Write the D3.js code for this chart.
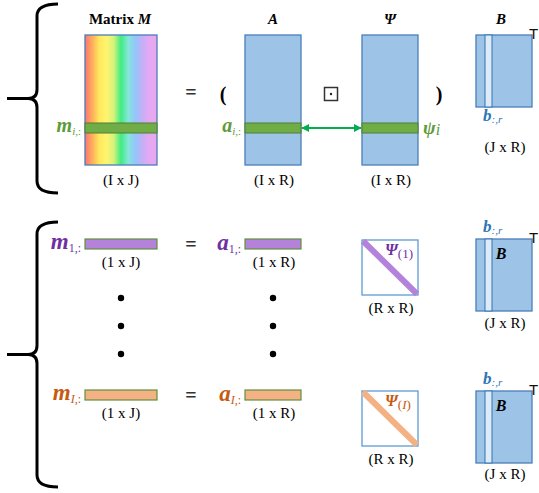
<!DOCTYPE html>
<html>
<head>
<meta charset="utf-8">
<script src="https://cdn.jsdelivr.net/npm/d3@7"></script>
<style>
  body { margin: 0; background: #fff; }
  text { font-family: "Liberation Serif", "DejaVu Serif", serif; }
</style>
</head>
<body>
<div id="chart"></div>
<script>
// Data -------------------------------------------------
const columns = ["M", "A", "Psi", "B"]
const titles = ["Matrix ", "A", "Ψ", "B"]
const topDims = ["(I x J)", "(I x R)", "(I x R)", "(J x R)"]
const rowDims = ["(1 x J)", "(1 x R)", "(R x R)", "(J x R)"]
const rowIds = ["1", "I"]
const rowFill = ["#b482da", "#f4b183"]
const rowInk = ["#7030a0", "#c55a11"]
const rainbow = ["#ff7373", "#ffad5c", "#ffe95c", "#fff46e", "#d4f37a", "#3fec82", "#86e6d8", "#92c6fc", "#c8aef6", "#e6a8f2", "#eaa6f0"]
const dotCount = 3

// Canvas setup -----------------------------------------
const WIDTH = 539, HEIGHT = 493
const svg = d3.select("#chart").append("svg")
    .attr("width", WIDTH)
    .attr("height", HEIGHT)

const BLUE = "#9dc3e6", BLUE_EDGE = "#4a7ebb", GREEN = "#70ad47", GREEN_EDGE = "#507e32"
const GREEN_INK = "#5f9b3a"
const DIM_SIZE = 15

// Scales ---------------------------------------------
const xLeft = d3.scaleOrdinal().domain(columns).range([85, 245, 362, 476])
const colW = d3.scaleOrdinal().domain(columns).range([72, 56, 56, 56])
const xMid = c => xLeft(c) + colW(c) / 2
// row band positions (top block, row 1, row I)
const rowY = d3.scaleOrdinal().domain(["top", "1", "I"]).range([35, 239, 390])
const gradX = d3.scaleLinear().domain([0, rainbow.length - 1]).range([0, 100])

// Gradient
const defs = svg.append("defs")
const grad = defs.append("linearGradient").attr("id", "rainbow")
grad.selectAll("stop").data(rainbow).join("stop")
    .attr("offset", (d, i) => gradX(i) + "%")
    .attr("stop-color", d => d)

// Braces ---------------------------------------------
function brace(y0, y1){
    const ym = (y0 + y1) / 2
    return `M58,${y0} Q37,${y0} 37,${y0+12} L37,${ym-9} Q37,${ym} 28,${ym} L7,${ym}` +
        ` M28,${ym} Q37,${ym} 37,${ym+9} L37,${y1-12} Q37,${y1} 58,${y1}`
}
svg.selectAll("path.brace").data([[4, 193], [222, 487]]).join("path")
    .attr("class", "brace")
    .attr("d", d => brace(d[0], d[1]))
    .attr("fill", "none").attr("stroke", "#000").attr("stroke-width", 3)

// Helper for label with subscript
function subLabel(g, x, y, base, sub, color, opts = {}){
    const t = g.append("text")
        .attr("x", x).attr("y", y)
        .attr("text-anchor", opts.anchor || "end")
        .attr("fill", color)
    t.append("tspan").text(base)
        .attr("font-size", opts.size || 17)
        .attr("font-weight", "bold").attr("font-style", "italic")
    sub.forEach(s => {
        t.append("tspan").text(s.t)
            .attr("font-size", opts.subSize || 11)
            .attr("font-style", s.i ? "italic" : "normal")
            .attr("dy", s.dy || 0)
    })
    return t
}

// transpose mark on B
function transposeMark(y){
    svg.append("text").attr("x", 529).attr("y", y)
        .style("font-family", "'Liberation Sans', Arial, sans-serif")
        .style("font-size", "15px")
        .attr("fill", "#111")
        .text("T")
}

// Top block ------------------------------------------
const topG = svg.append("g")
const topH = 130, bandY = 123, bandH = 10

// titles
topG.selectAll("text.title").data(columns).join("text")
    .attr("class", "title")
    .attr("x", d => d === "M" ? 120 : (d === "B" ? 501 : xMid(d)))
    .attr("y", 24)
    .attr("text-anchor", "middle")
    .attr("font-size", 15).attr("font-weight", "bold")
    .each(function(d, i){
        const t = d3.select(this)
        if (d === "M") {
            t.append("tspan").text(titles[i])
            t.append("tspan").text("M").attr("font-style", "italic")
        } else {
            t.text(titles[i]).attr("font-style", "italic")
        }
    })

// matrices
topG.selectAll("rect.mat").data(columns).join("rect")
    .attr("class", "mat")
    .attr("x", d => xLeft(d))
    .attr("y", rowY("top"))
    .attr("width", d => colW(d))
    .attr("height", d => d === "B" ? 72 : topH)
    .attr("fill", d => d === "M" ? "url(#rainbow)" : BLUE)
    .attr("stroke", BLUE_EDGE).attr("stroke-width", 1.3)

// green rows
topG.selectAll("rect.band").data(columns.slice(0, 3)).join("rect")
    .attr("class", "band")
    .attr("x", d => xLeft(d)).attr("y", bandY)
    .attr("width", d => colW(d)).attr("height", bandH)
    .attr("fill", GREEN).attr("stroke", GREEN_EDGE).attr("stroke-width", 1)

// dims
topG.selectAll("text.dim").data(columns).join("text")
    .attr("class", "dim")
    .attr("x", d => d === "M" ? 121 : xMid(d) + 1)
    .attr("y", d => d === "B" ? 152 : 185)
    .attr("text-anchor", "middle").attr("font-size", DIM_SIZE)
    .text((d, i) => topDims[i])

// arrow
const arrowColor = "#00b050"
defs.append("marker").attr("id", "ah").attr("viewBox", "0 0 10 10")
    .attr("refX", 9).attr("refY", 5).attr("markerWidth", 4).attr("markerHeight", 4)
    .attr("orient", "auto-start-reverse")
    .append("path").attr("d", "M0,0 L10,5 L0,10 z").attr("fill", arrowColor)
topG.append("line")
    .attr("x1", xLeft("A") + colW("A") + 1).attr("x2", xLeft("Psi") - 1)
    .attr("y1", 128).attr("y2", 128)
    .attr("stroke", arrowColor).attr("stroke-width", 2)
    .attr("marker-start", "url(#ah)").attr("marker-end", "url(#ah)")

// operator symbols
topG.append("rect").attr("x", 324.5).attr("y", 87.5).attr("width", 13).attr("height", 13)
    .attr("fill", "#fff").attr("stroke", "#333").attr("stroke-width", 1.5)
topG.append("circle").attr("cx", 331).attr("cy", 94).attr("r", 1.2).attr("fill", "#222")
topG.append("text").attr("x", 191).attr("y", 99).attr("text-anchor", "middle")
    .attr("font-size", 20).attr("font-weight", "bold").attr("fill", "#333").text("=")
topG.append("text").attr("x", 223).attr("y", 101).attr("text-anchor", "middle")
    .attr("font-size", 20).attr("font-weight", "bold").text("(")
topG.append("text").attr("x", 439).attr("y", 101).attr("text-anchor", "middle")
    .attr("font-size", 20).attr("font-weight", "bold").text(")")

// labels
subLabel(topG, 81, 132, "m", [{t: "i", i: true, dy: 3}, {t: ",:"}], GREEN_INK, {size: 20})
subLabel(topG, 241, 132, "a", [{t: "i", i: true, dy: 3}, {t: ",:"}], GREEN_INK, {size: 20})
subLabel(topG, 423, 134, "ψ", [{t: "i", i: true, dy: 1}], GREEN_INK, {anchor: "start", size: 19, subSize: 16})
subLabel(topG, 483, 121, "b", [{t: ":,r", i: true, dy: 2}], "#2e75b6", {anchor: "start", size: 17, subSize: 11})

// Rows ---------------------------------------------
rowIds.forEach((id, k) => {
    const g = svg.append("g")
    const y0 = rowY(id)
    const barH = 10
    // bars
    g.selectAll("rect.bar").data(["M", "A"]).join("rect")
        .attr("class", "bar")
        .attr("x", d => xLeft(d)).attr("y", y0)
        .attr("width", d => colW(d)).attr("height", barH)
        .attr("fill", rowFill[k]).attr("stroke", "#5f8f3e").attr("stroke-width", 1.2)
    subLabel(g, 81, y0 + 10, "m", [{t: id, i: id === "I", dy: 3}, {t: ",:"}], rowInk[k], {size: 23, subSize: 12})
    subLabel(g, 241, y0 + 11, "a", [{t: id, i: id === "I", dy: 3}, {t: ",:"}], rowInk[k], {size: 23, subSize: 12})
    g.append("text").attr("x", 191).attr("y", y0 + 12).attr("text-anchor", "middle")
        .attr("font-size", 20).attr("font-weight", "bold").attr("fill", "#333").text("=")
    // dims
    g.selectAll("text.dim").data(columns).join("text")
        .attr("class", "dim")
        .attr("x", d => d === "M" ? 121 : xMid(d) + 1)
        .attr("y", d => d === "M" || d === "A" ? y0 + 28 : (d === "Psi" ? y0 + 74 : y0 + 89))
        .attr("text-anchor", "middle").attr("font-size", DIM_SIZE)
        .text((d, i) => rowDims[i])
    // psi diag box
    const px = xLeft("Psi"), pw = colW("Psi")
    g.append("rect").attr("x", px).attr("y", y0 + 1).attr("width", pw).attr("height", 55)
        .attr("fill", "#fff").attr("stroke", "#5b9bd5").attr("stroke-width", 1.3)
    g.append("line").attr("x1", px + 1).attr("y1", y0 + 2).attr("x2", px + pw - 1).attr("y2", y0 + 55)
        .attr("stroke", rowFill[k]).attr("stroke-width", 6)
    subLabel(g, 385, y0 + 16, "Ψ", [{t: "(", dy: 3}, {t: id, i: id === "I"}, {t: ")"}], rowInk[k],
        {anchor: "start", size: 16, subSize: 13})
    // B box
    const by = k === 0 ? 239 : 391
    g.append("rect").attr("x", xLeft("B")).attr("y", by).attr("width", colW("B")).attr("height", 72)
        .attr("fill", BLUE).attr("stroke", BLUE_EDGE).attr("stroke-width", 1.3)
        .lower()
    g.append("text").attr("x", 501).attr("y", by + 20).attr("text-anchor", "middle")
        .attr("font-size", 16).attr("font-weight", "bold").attr("font-style", "italic").text("B")
    subLabel(g, 483, by - 7, "b", [{t: ":,r", i: true, dy: 2}], "#2e75b6", {anchor: "start", size: 17, subSize: 11})
    transposeMark(by + 4)
})
transposeMark(39)

// B stripe (top + rows)
const bStripeTops = [[35, 72], [239, 72], [391, 72]]
svg.selectAll("rect.stripe").data(bStripeTops).join("rect")
    .attr("class", "stripe")
    .attr("x", xLeft("B") + 9).attr("y", d => d[0])
    .attr("width", 7).attr("height", d => d[1])
    .attr("fill", "#deebf7").attr("stroke", "#2e75b6").attr("stroke-width", 1)

// Dots -----------------------------------------------
const dotIdx = d3.range(dotCount)
const dotY = d3.scaleLinear().domain([0, dotCount - 1]).range([298, 354])
svg.selectAll("circle.dot").data(d3.cross(["M", "A"], dotIdx)).join("circle")
    .attr("class", "dot")
    .attr("cx", d => d[0] === "M" ? 121 : 273)
    .attr("cy", d => dotY(d[1]))
    .attr("r", 3.2).attr("fill", "#000")
</script>
</body>
</html>
